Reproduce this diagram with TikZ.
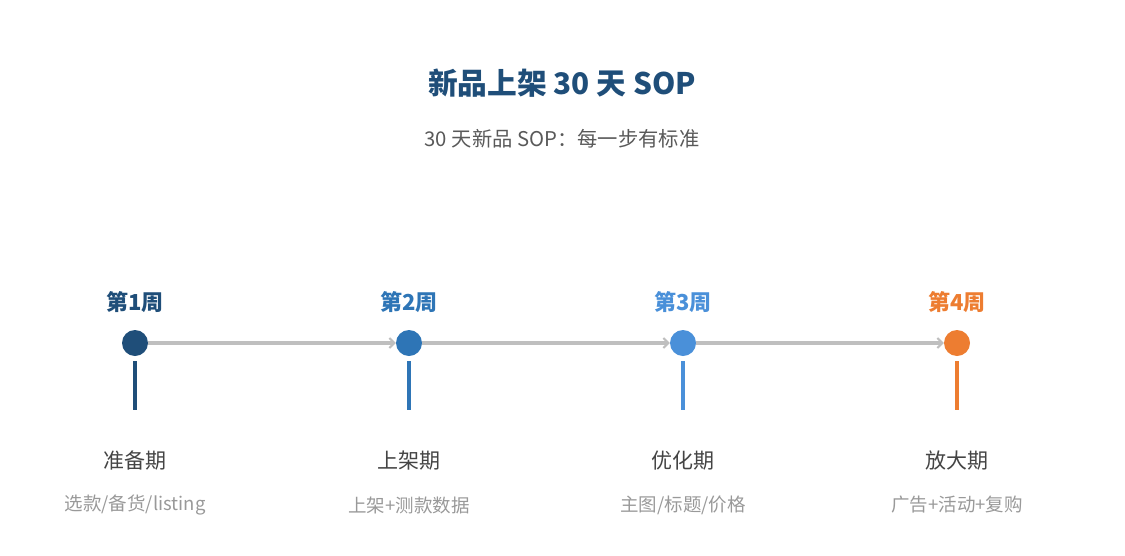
\documentclass[tikz,border=0pt]{standalone}
\usepackage{fontspec}
\setmainfont{Noto Sans CJK SC}
\usetikzlibrary{arrows.meta}
\definecolor{titleblue}{HTML}{1F4E79}
\definecolor{wkA}{HTML}{1F4E79}
\definecolor{wkB}{HTML}{2E75B6}
\definecolor{wkC}{HTML}{4A90D9}
\definecolor{wkD}{HTML}{ED7D31}
\definecolor{linegray}{HTML}{BFBFBF}
\definecolor{subgray}{HTML}{595959}
\definecolor{phasegray}{HTML}{444444}
\definecolor{lightgray}{HTML}{999999}
\tikzset{
  dotnode/.style={circle, fill=#1, minimum size=26pt, inner sep=0pt},
  weeklabel/.style={text=#1, font=\fontsize{22}{24}\selectfont\bfseries, inner sep=0pt},
  phasename/.style={text=phasegray, font=\fontsize{21}{23}\selectfont, inner sep=0pt},
  phasedesc/.style={text=lightgray, font=\fontsize{18.5}{20}\selectfont, inner sep=0pt},
  conn/.style={draw=linegray, line width=3.2pt, -{Straight Barb[length=5pt,width=10pt,line width=2pt]}},
  stem/.style={draw=#1, line width=3.2pt}
}
\begin{document}
\begin{tikzpicture}[x=1pt,y=-1pt]
\useasboundingbox (0,0) rectangle (1125,555);
\node[text=titleblue, font=\fontsize{29.7}{32}\selectfont\bfseries, inner sep=0pt] (title) at (562,83) {新品上架 30 天 SOP};
\node[text=subgray, font=\fontsize{20.3}{22}\selectfont, inner sep=0pt] (subtitle) at (562,139) {30 天新品 SOP：每一步有标准};

\node[dotnode=wkA] (d1) at (135,343) {};
\node[dotnode=wkB] (d2) at (409,343) {};
\node[dotnode=wkC] (d3) at (683,343) {};
\node[dotnode=wkD] (d4) at (957,343) {};

\draw[conn] (d1.east) -- (d2.west);
\draw[conn] (d2.east) -- (d3.west);
\draw[conn] (d3.east) -- (d4.west);

\node[weeklabel=wkA] (w1) at (135,302) {第1周};
\node[weeklabel=wkB] (w2) at (409,302) {第2周};
\node[weeklabel=wkC] (w3) at (683,302) {第3周};
\node[weeklabel=wkD] (w4) at (957,302) {第4周};

\coordinate (s1a) at (135,361); \coordinate (s1b) at (135,410);
\coordinate (s2a) at (409,361); \coordinate (s2b) at (409,410);
\coordinate (s3a) at (683,361); \coordinate (s3b) at (683,410);
\coordinate (s4a) at (957,361); \coordinate (s4b) at (957,410);
\draw[stem=wkA] (s1a) -- (s1b);
\draw[stem=wkB] (s2a) -- (s2b);
\draw[stem=wkC] (s3a) -- (s3b);
\draw[stem=wkD] (s4a) -- (s4b);

\node[phasename] (p1) at (135,461) {准备期};
\node[phasename] (p2) at (409,461) {上架期};
\node[phasename] (p3) at (683,461) {优化期};
\node[phasename] (p4) at (957,461) {放大期};

\node[phasedesc] (q1) at (135,505) {选款/备货/listing};
\node[phasedesc] (q2) at (409,505) {上架+测款数据};
\node[phasedesc] (q3) at (683,505) {主图/标题/价格};
\node[phasedesc] (q4) at (957,505) {广告+活动+复购};
\end{tikzpicture}
\end{document}
